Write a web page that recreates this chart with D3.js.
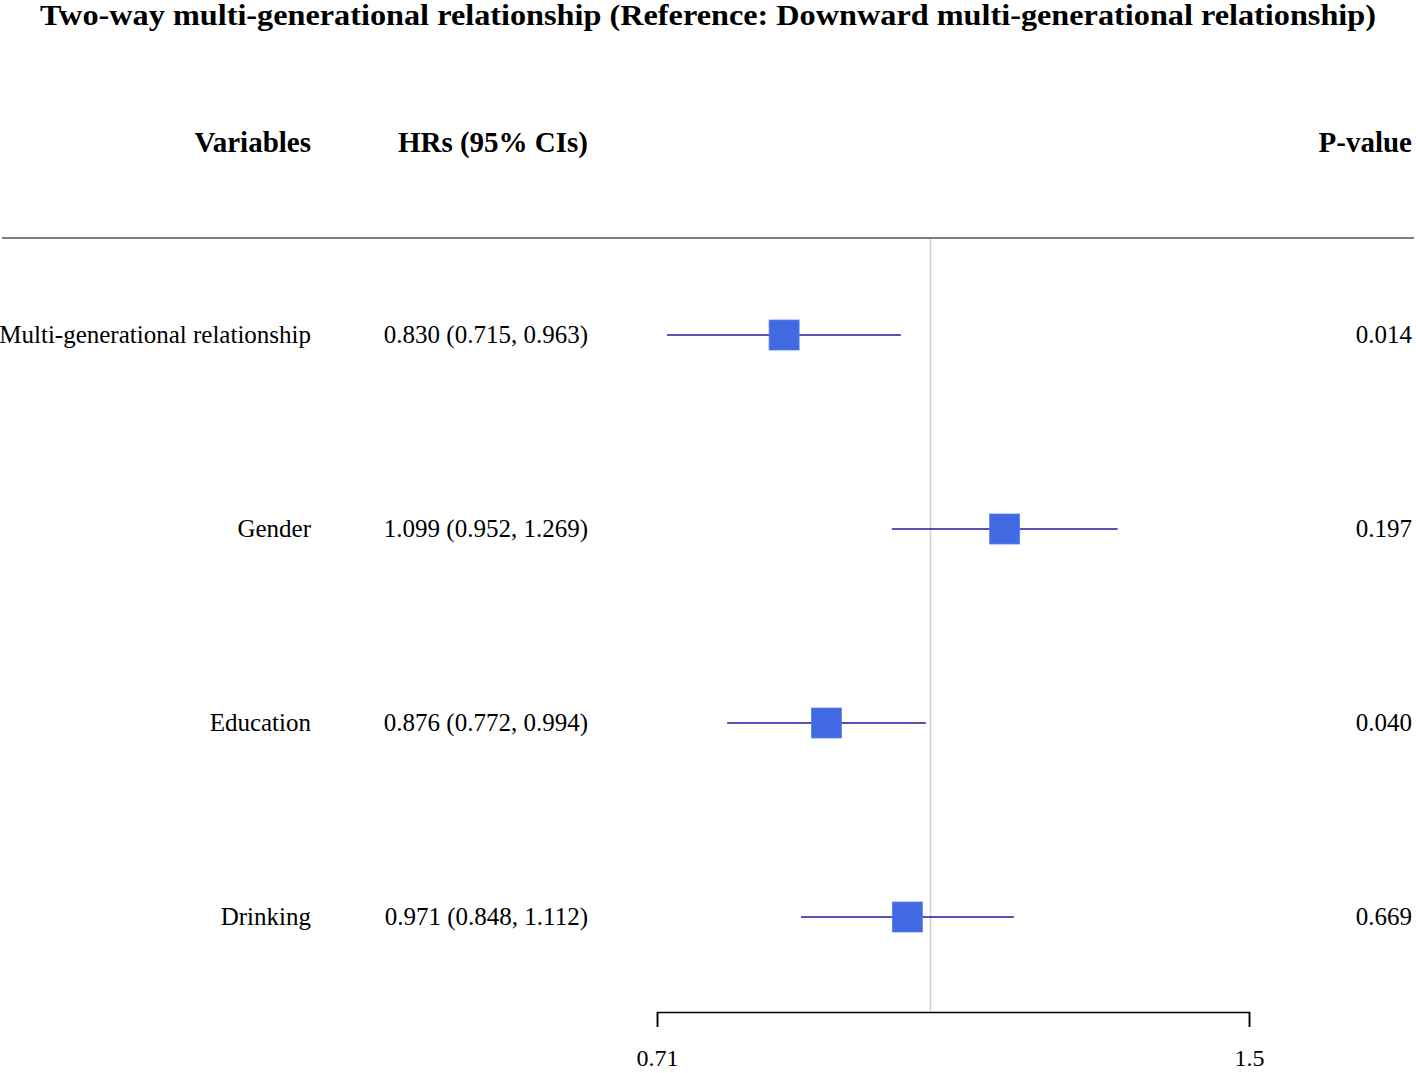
<!DOCTYPE html>
<html>
<head>
<meta charset="utf-8">
<script src="https://cdn.jsdelivr.net/npm/d3@7"></script>
<style>
  body { margin: 0; background: #fff; }
  text { font-family: "Liberation Serif", "Times New Roman", serif; fill: #000; }
</style>
</head>
<body>
<svg id="chart" width="1416" height="1073"></svg>
<script>
const title = "Two-way multi-generational relationship (Reference: Downward multi-generational relationship)";
const headers = ["Variables", "HRs (95% CIs)", "P-value"];
const variables = ["Multi-generational relationship", "Gender", "Education", "Drinking"];
const hr = [0.830, 1.099, 0.876, 0.971];
const lower = [0.715, 0.952, 0.772, 0.848];
const upper = [0.963, 1.269, 0.994, 1.112];
const pValues = ["0.014", "0.197", "0.040", "0.669"];
const tickValues = [0.706, 1.5];
const tickLabels = ["0.71", "1.5"];

const svg = d3.select("#chart");
const fmt = d3.format(".3f");

const rows = variables.map((v, i) => ({
    name: v, hr: hr[i], lo: lower[i], hi: upper[i], p: pValues[i]
}));

const x = d3.scaleLog().domain([tickValues[0], tickValues[1]]).range([657, 1249]);
const y = d3.scalePoint().domain(variables).range([335, 917]);

const colVar = 311, colHr = 588, colP = 1412;

// title
const t = svg.append("text")
    .attr("x", 708).attr("y", 25)
    .attr("text-anchor", "middle")
    .style("font-size", "29px")
    .style("font-weight", "bold")
    .text(title);
const tw = t.node().getComputedTextLength();
if (Math.abs(tw - 1336) > 6) t.attr("textLength", 1336).attr("lengthAdjust", "spacingAndGlyphs");

// headers
const headerG = svg.append("g").style("font-size", "29px").style("font-weight", "bold");
[colVar, colHr, colP].forEach((cx, i) => {
    headerG.append("text")
        .attr("x", cx).attr("y", 152)
        .attr("text-anchor", "end")
        .text(headers[i]);
});

// rule below header
svg.append("line")
    .attr("x1", 2).attr("x2", 1414)
    .attr("y1", 238).attr("y2", 238)
    .attr("stroke", "#555").attr("stroke-width", 1.6);

// reference line at HR = 1
svg.append("line")
    .attr("x1", x(1)).attr("x2", x(1))
    .attr("y1", 239).attr("y2", 1011)
    .attr("stroke", "#d0d0d0").attr("stroke-width", 1.5);

// row text
const rowG = svg.append("g").style("font-size", "25px");
rows.forEach(d => {
    const yy = y(d.name) + 8;
    rowG.append("text").attr("x", colVar).attr("y", yy).attr("text-anchor", "end").text(d.name);
    rowG.append("text").attr("x", colHr).attr("y", yy).attr("text-anchor", "end")
        .text(`${fmt(d.hr)} (${fmt(d.lo)}, ${fmt(d.hi)})`);
    rowG.append("text").attr("x", colP).attr("y", yy).attr("text-anchor", "end").text(d.p);
});

// CIs and boxes
const marks = svg.append("g").selectAll("g.row")
    .data(rows)
    .join("g").attr("class", "row");

marks.append("line")
    .attr("x1", d => x(d.lo)).attr("x2", d => x(d.hi))
    .attr("y1", d => y(d.name)).attr("y2", d => y(d.name))
    .attr("stroke", "#1a1aa0").attr("stroke-width", 1.6);

const box = 30;
marks.append("rect")
    .attr("x", d => x(d.hr) - box / 2)
    .attr("y", d => y(d.name) - box / 2)
    .attr("width", box).attr("height", box)
    .attr("fill", "#4169E1")
    .attr("stroke", "#5b7ff0").attr("stroke-width", 0.8);

// x axis
const xAxis = d3.axisBottom(x)
    .tickValues(tickValues)
    .tickFormat((d, i) => tickLabels[i])
    .tickSizeOuter(0)
    .tickSize(15);

const gX = svg.append("g")
    .attr("transform", "translate(0, 1012)")
    .call(xAxis);
gX.select(".domain").attr("stroke", "#000").attr("stroke-width", 1.5);
gX.selectAll(".tick line").attr("stroke", "#000").attr("stroke-width", 1.5);
gX.selectAll(".tick text")
    .attr("y", 54).attr("dy", 0)
    .style("font-family", "'Liberation Serif', 'Times New Roman', serif")
    .style("font-size", "24px")
    .attr("fill", "#000");
</script>
</body>
</html>
